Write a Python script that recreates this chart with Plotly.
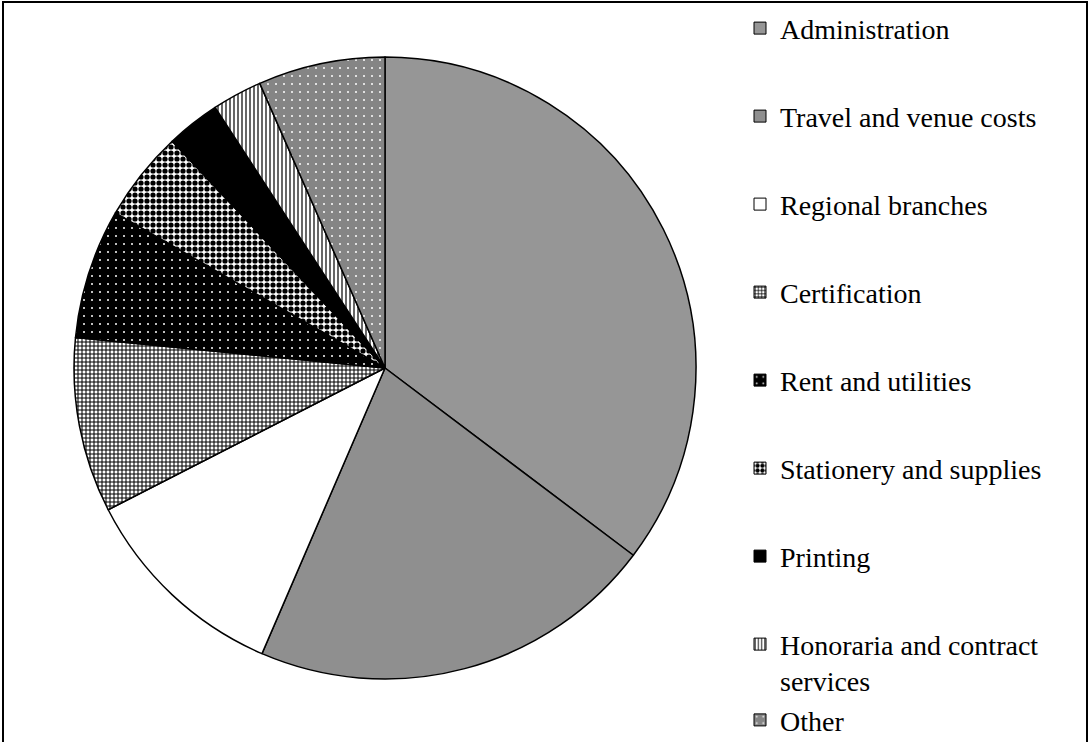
import plotly.graph_objects as go

categories = ["Administration", "Travel and venue costs", "Regional branches", "Certification",
              "Rent and utilities", "Stationery and supplies", "Printing",
              "Honoraria and contract services", "Other"]
legend_labels = ["Administration", "Travel and venue costs", "Regional branches", "Certification",
                 "Rent and utilities", "Stationery and supplies", "Printing",
                 "Honoraria and contract<br>services", "Other"]
values = [35.3, 21.2, 11.0, 9.1, 6.75, 4.7, 2.8, 2.6, 6.6]
legend_groups = ["g0", "g1", "g2", "g3", "g4", "g5", "g6", "g7", "g7"]

# fill styles per slice
colors = ["#969696", "#ffffff", "#ffffff", "#ffffff", "#000000", "#ffffff", "#000000", "#ffffff", "#858585"]
shapes_p = ["", ".", "", "+", ".", ".", "", "|", "."]
fg = ["#000000", "#000000", "#000000", "#000000", "#ffffff", "#000000", "#000000", "#000000", "#ffffff"]
bg = ["#969696", "#ffffff", "#ffffff", "#ffffff", "#000000", "#ffffff", "#000000", "#ffffff", "#858585"]
psize = [8, 2, 8, 4, 8, 6, 8, 4, 8]
psol = [0.3, 0.5, 0.3, 0.45, 0.05, 0.6, 0.3, 0.3, 0.05]

W, H = 1090, 742
fig = go.Figure()

fig.add_trace(go.Pie(
    labels=categories, values=values, sort=False, direction="clockwise", rotation=0,
    textinfo="none", showlegend=False,
    marker=dict(colors=colors, line=dict(color="#000000", width=1.5),
                pattern=dict(shape=shapes_p, fgcolor=fg, bgcolor=bg, size=psize,
                             solidity=psol, fillmode="replace")),
    domain=dict(x=[74 / W, 696 / W], y=[1 - 679 / H, 1 - 57 / H]),
))

for i, lab in enumerate(legend_labels):
    fig.add_trace(go.Bar(
        x=[None], y=[None], name=lab, legendgroup=legend_groups[i], showlegend=True,
        marker=dict(color=colors[i], line=dict(color="#000000", width=1),
                    pattern=dict(shape=shapes_p[i], fgcolor=fg[i], bgcolor=bg[i],
                                 size=psize[i], solidity=psol[i], fillmode="replace")),
        hoverinfo="skip",
    ))

fig.add_shape(type="rect", xref="paper", yref="paper",
              x0=3 / W, x1=1087 / W, y0=-0.1, y1=1 - 2 / H,
              line=dict(color="#000000", width=2), fillcolor="rgba(0,0,0,0)", layer="above")

fig.update_layout(
    width=W, height=H,
    margin=dict(l=0, r=0, t=0, b=0, autoexpand=False),
    paper_bgcolor="#ffffff", plot_bgcolor="#ffffff",
    xaxis=dict(visible=False), yaxis=dict(visible=False),
    showlegend=True,
    legend=dict(x=740 / W, xanchor="left", y=1 - 3.4 / H, yanchor="top",
                font=dict(family="Liberation Serif", size=28, color="#000000"),
                tracegroupgap=48.6, valign="top", traceorder="grouped",
                bgcolor="rgba(0,0,0,0)", borderwidth=0),
)

fig.write_html("out.html", config={"displayModeBar": False},
               post_script="document.body.style.margin='0';document.body.style.overflow='hidden';")
